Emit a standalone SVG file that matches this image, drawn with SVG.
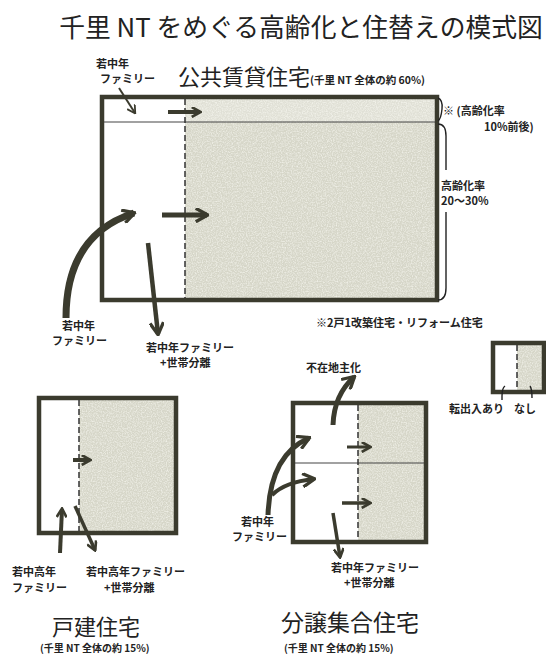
<svg xmlns="http://www.w3.org/2000/svg" width="546" height="654" viewBox="0 0 546 654">
<style>
text{font-family:"Noto Sans CJK JP","Noto Sans",sans-serif;fill:#222}
.s{font-size:11px;font-weight:bold}
.box{fill:none;stroke:#3b3b2e;stroke-width:4.5}
.shade{fill:#d6d6c8}
.dash{stroke:#333;stroke-width:1.5;stroke-dasharray:6 3;fill:none}
.thin{stroke:#444;stroke-width:1.2;fill:none}
.arr{stroke:#3b3b2e;fill:none;stroke-linecap:butt}
.br{stroke:#222;stroke-width:1.4;fill:none}
</style>
<defs>
<marker id="ah" viewBox="0 0 10 10" refX="8.5" refY="5" markerWidth="15" markerHeight="15" orient="auto" markerUnits="userSpaceOnUse">
<path d="M1,0.5 L9,5 L1,9.5" fill="none" stroke="#3b3b2e" stroke-width="2.2"/>
</marker>
<marker id="ahm" viewBox="0 0 10 10" refX="8.5" refY="5" markerWidth="11" markerHeight="11" orient="auto" markerUnits="userSpaceOnUse">
<path d="M1,0.5 L9,5 L1,9.5" fill="none" stroke="#3b3b2e" stroke-width="2.4"/>
</marker>
<marker id="ahs" viewBox="0 0 10 10" refX="8.5" refY="5" markerWidth="10" markerHeight="10" orient="auto" markerUnits="userSpaceOnUse">
<path d="M1,0.5 L9,5 L1,9.5" fill="none" stroke="#3b3b2e" stroke-width="1.8"/>
</marker>
<filter id="noise" x="0" y="0" width="100%" height="100%">
<feTurbulence type="fractalNoise" baseFrequency="0.8" numOctaves="2" seed="3" result="t"/>
<feColorMatrix in="t" type="matrix" values="0 0 0 0 1  0 0 0 0 1  0 0 0 0 0.95  0 0 0 1.2 -0.45" result="n"/>
<feComposite in="n" in2="SourceGraphic" operator="in" result="nn"/>
<feMerge><feMergeNode in="SourceGraphic"/><feMergeNode in="nn"/></feMerge>
</filter>
</defs>

<text x="301" y="37" font-size="25.8" text-anchor="middle">千里 NT をめぐる高齢化と住替えの模式図</text>

<g id="public-rental">
<rect class="shade" x="185" y="99" width="250" height="199" filter="url(#noise)"/>
<rect x="185" y="99" width="250" height="23" fill="#e0e0d6" filter="url(#noise)"/>
<rect class="box" x="102" y="97" width="335" height="203"/>
<line class="thin" x1="104" y1="122" x2="435" y2="122"/>
<line class="dash" x1="185" y1="99" x2="185" y2="298"/>
<text x="178" y="85" font-size="22">公共賃貸住宅</text>
<text x="310" y="84" font-size="10.5" font-weight="bold">(千里 NT 全体の約 60%)</text>
<text class="s" x="96" y="68">若中年</text>
<text class="s" x="100" y="83">ファミリー</text>
<text class="s" x="62" y="330">若中年</text>
<text class="s" x="52" y="345">ファミリー</text>
<text class="s" x="146" y="352">若中年ファミリー</text>
<text class="s" x="160" y="367">+世帯分離</text>
<path class="br" d="M438,98 q5,2 4,11 q-1,10 -4,12"/>
<text class="s" x="443" y="115">※ (高齢化率</text>
<text class="s" x="484" y="131">10%前後)</text>
<path class="br" d="M438,124 q8,0 8,12 l0,34"/>
<path class="br" d="M446,212 l0,76 q0,12 -8,12"/>
<text class="s" x="441" y="190">高齢化率</text>
<text class="s" x="441" y="205">20〜30%</text>
<text class="s" x="316" y="327">※2戸1改築住宅・リフォーム住宅</text>
</g>

<g id="detached">
<rect class="shade" x="79" y="400" width="95" height="131" filter="url(#noise)"/>
<rect class="box" x="39" y="398" width="137" height="135"/>
<line class="dash" x1="79" y1="400" x2="79" y2="531"/>
<text class="s" x="12" y="576">若中高年</text>
<text class="s" x="12" y="592">ファミリー</text>
<text class="s" x="86" y="576">若中高年ファミリー</text>
<text class="s" x="104" y="592">+世帯分離</text>
<text x="52" y="635" font-size="22">戸建住宅</text>
<text x="40" y="652" font-size="10" font-weight="bold">(千里 NT 全体の約 15%)</text>
</g>

<g id="condo">
<rect class="shade" x="358" y="405" width="66" height="135" filter="url(#noise)"/>
<rect class="box" x="293" y="403" width="133" height="139"/>
<line class="thin" x1="295" y1="463" x2="424" y2="463"/>
<line class="dash" x1="358" y1="405" x2="358" y2="540"/>
<text class="s" x="306" y="372">不在地主化</text>
<text class="s" x="241" y="526">若中年</text>
<text class="s" x="232" y="541">ファミリー</text>
<text class="s" x="331" y="572">若中年ファミリー</text>
<text class="s" x="344" y="587">+世帯分離</text>
<text x="281" y="631" font-size="23">分譲集合住宅</text>
<text x="284" y="652" font-size="10" font-weight="bold">(千里 NT 全体の約 15%)</text>
</g>

<g id="legend">
<rect class="shade" x="517" y="345" width="27" height="45" filter="url(#noise)"/>
<rect class="box" x="493" y="343" width="51" height="49"/>
<line class="dash" x1="517" y1="345" x2="517" y2="390"/>
<path class="br" d="M505,386 q-3,2 -3,10 l0,4"/>
<path class="br" d="M530,386 q2,3 2,12"/>
<text class="s" x="449" y="413">転出入あり</text>
<text class="s" x="514" y="413">なし</text>
</g>

<g id="connectors">
<line class="arr" x1="119" y1="88" x2="135" y2="113" stroke-width="2" marker-end="url(#ahs)"/>
<line class="arr" x1="168" y1="112" x2="200" y2="112" stroke-width="4" marker-end="url(#ahm)"/>
<line class="arr" x1="162" y1="215" x2="207" y2="215" stroke-width="5" marker-end="url(#ah)"/>
<path class="arr" d="M66,318 Q66,235 134,213" stroke-width="7" marker-end="url(#ah)"/>
<line class="arr" x1="148" y1="243" x2="158" y2="334" stroke-width="4.5" marker-end="url(#ah)"/>
<line class="arr" x1="73" y1="460" x2="90" y2="460" stroke-width="4" marker-end="url(#ahm)"/>
<line class="arr" x1="60" y1="553" x2="62" y2="509" stroke-width="4" marker-end="url(#ahm)"/>
<line class="arr" x1="75" y1="506" x2="95" y2="550" stroke-width="3.5" marker-end="url(#ahm)"/>
<line class="arr" x1="347" y1="447" x2="370" y2="447" stroke-width="3" marker-end="url(#ahm)"/>
<line class="arr" x1="342" y1="503" x2="370" y2="503" stroke-width="3.5" marker-end="url(#ahm)"/>
<path class="arr" d="M333,425 Q334,395 354,377" stroke-width="5" marker-end="url(#ah)"/>
<path class="arr" d="M268,515 Q270,455 309,438" stroke-width="5" marker-end="url(#ah)"/>
<path class="arr" d="M272,495 Q285,482 314,479" stroke-width="4" marker-end="url(#ah)"/>
<line class="arr" x1="333" y1="513" x2="340" y2="557" stroke-width="3.5" marker-end="url(#ahm)"/>
</g>
</svg>
